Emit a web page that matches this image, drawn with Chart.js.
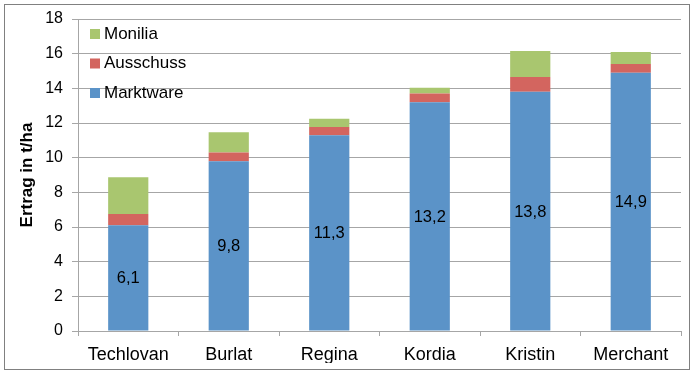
<!DOCTYPE html>
<html>
<head>
<meta charset="utf-8">
<script src="https://cdn.jsdelivr.net/npm/chart.js@4"></script>
<style>
  html, body { margin: 0; padding: 0; background: #fff; }
  #wrap { width: 693px; height: 373px; }
</style>
</head>
<body>
<div id="wrap"><canvas id="myChart" width="693" height="373"></canvas></div>
<script>
// Ertrag je Sorte (t/ha)
var sorten = ['Techlovan', 'Burlat', 'Regina', 'Kordia', 'Kristin', 'Merchant'];
var marktware = [6.1, 9.8, 11.3, 13.2, 13.8, 14.9];
var ausschuss = [0.65, 0.5, 0.47, 0.5, 0.85, 0.5];
var monilia = [2.12, 1.17, 0.48, 0.33, 1.5, 0.7];
var yTicks = [0, 2, 4, 6, 8, 10, 12, 14, 16, 18];

var FONT = "'Liberation Sans', Arial, sans-serif";
var GRID = '#a6a6a6';

// rahmen um das ganze diagramm
var frame = {
    id: 'frame',
    afterDraw: function (chart) {
        var c = chart.ctx;
        c.save();
        c.strokeStyle = '#808080';
        c.lineWidth = 1;
        c.strokeRect(4.5, 4.5, 685, 365);
        c.restore();
    }
};

// werte der marktware mittig in den balken
var valueLabels = {
    id: 'valueLabels',
    afterDatasetsDraw: function (chart) {
        var c = chart.ctx;
        var meta = chart.getDatasetMeta(0);
        c.save();
        c.font = '16.5px ' + FONT;
        c.fillStyle = '#000';
        c.textAlign = 'center';
        c.textBaseline = 'middle';
        meta.data.forEach(function (bar, i) {
            var txt = marktware[i].toFixed(1).replace('.', ',');
            c.fillText(txt, bar.x, (bar.y + bar.base) / 2 + 1);
        });
        c.restore();
    }
};

// legende oben links im diagramm, in umgekehrter reihenfolge
var innerLegend = {
    id: 'innerLegend',
    afterDraw: function (chart) {
        var c = chart.ctx;
        var sets = chart.data.datasets.slice().reverse();
        c.save();
        c.font = '17px ' + FONT;
        c.textBaseline = 'middle';
        sets.forEach(function (ds, i) {
            var y = 34 + i * 29.5;
            c.fillStyle = ds.backgroundColor;
            c.fillRect(90, y - 5, 10, 10);
            c.fillStyle = '#000';
            c.fillText(ds.label, 104, y);
        });
        c.restore();
    }
};

var ctx = document.getElementById('myChart').getContext('2d');

var myChart = new Chart(ctx, {
    type: 'bar',
    data: {
        labels: sorten,
        datasets: [{
            label: 'Marktware',
            data: marktware,
            backgroundColor: '#5b93c8'
        },
        {
            label: 'Ausschuss',
            data: ausschuss,
            backgroundColor: '#d3655f'
        },
        {
            label: 'Monilia',
            data: monilia,
            backgroundColor: '#a9c66f'
        }]
    },
    options: {
        responsive: false,
        animation: false,
        barPercentage: 0.4,
        categoryPercentage: 1,
        layout: {
            padding: { left: 10, right: 12, top: 19, bottom: 10 }
        },
        plugins: {
            legend: { display: false },
            tooltip: { enabled: false }
        },
        scales: {
            x: {
                stacked: true,
                afterFit: function (scale) { scale.height = 32; },
                grid: {
                    display: true,
                    drawOnChartArea: false,
                    drawTicks: true,
                    tickLength: 5,
                    color: GRID
                },
                border: { color: GRID, width: 1 },
                ticks: {
                    color: '#000',
                    padding: 8,
                    font: { family: FONT, size: 18 }
                }
            },
            y: {
                stacked: true,
                min: 0,
                max: 18,
                afterFit: function (scale) { scale.width = 68; },
                afterBuildTicks: function (scale) {
                    scale.ticks = yTicks.map(function (v) { return { value: v }; });
                },
                grid: {
                    color: GRID,
                    lineWidth: 1,
                    tickLength: 6
                },
                border: { color: GRID, width: 1 },
                ticks: {
                    color: '#000',
                    padding: 9,
                    font: { family: FONT, size: 16 }
                },
                title: {
                    display: true,
                    text: 'Ertrag in t/ha',
                    color: '#000',
                    padding: { top: 7, bottom: 0 },
                    font: { family: FONT, size: 17, weight: 'bold' }
                }
            }
        }
    },
    plugins: [valueLabels, innerLegend, frame]
});
</script>
</body>
</html>
